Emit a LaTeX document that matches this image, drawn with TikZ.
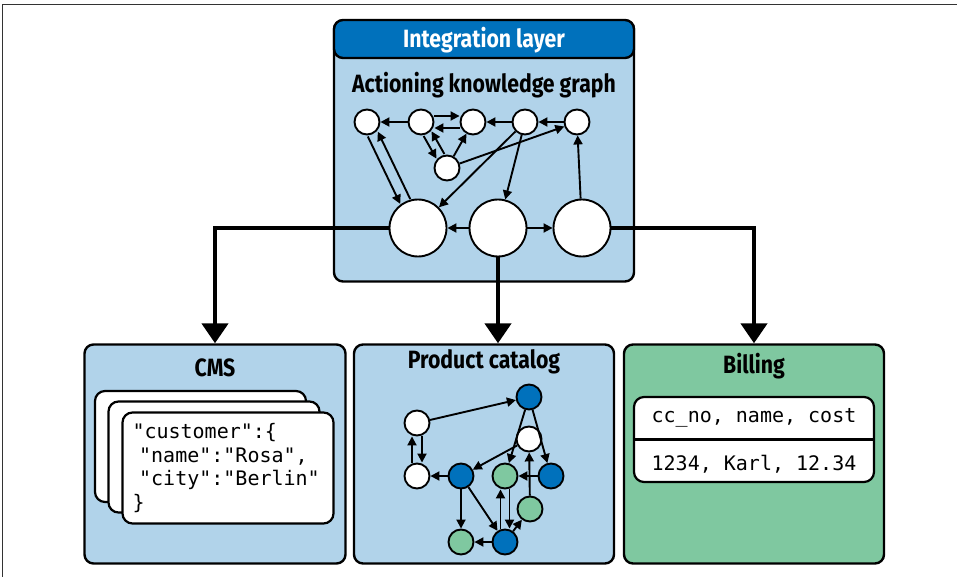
\documentclass[tikz,border=0pt]{standalone}
\usepackage{fontspec}
\setmainfont{Fira Sans}[FakeStretch=0.85]
\setmonofont{DejaVu Sans Mono}
\usetikzlibrary{arrows.meta}

\definecolor{paleblue}{RGB}{177,211,234}
\definecolor{deepblue}{RGB}{0,113,188}
\definecolor{mint}{RGB}{127,200,160}

\begin{document}
\begin{tikzpicture}
  [x=1pt,y=-1pt,
   every node/.style={inner sep=0pt},
   panel/.style={draw,line width=2.4pt,rounded corners=9pt},
   card/.style={draw,line width=2.2pt,rounded corners=10pt,fill=white},
   title/.style={font=\bfseries\fontsize{25}{29}\selectfont},
   code/.style={font=\ttfamily\fontsize{20}{23.5}\selectfont},
   dot/.style={circle,draw,line width=1.9pt,fill=white,minimum size=25pt},
   hub/.style={circle,draw,line width=1.9pt,fill=white,minimum size=57pt},
   link/.style={line width=1.9pt,-{Triangle[length=9pt,width=9pt]}},
   feed/.style={line width=4.5pt,-{Triangle[length=20pt,width=26pt]}}]

  \useasboundingbox (0,0) rectangle (957,577);
  \draw[line width=1.2pt,black!80] (2.5,577) -- (2.5,4.5) -- (957,4.5);

  % integration layer
  \node[panel,fill=paleblue,minimum width=300pt,minimum height=261pt] (intbox) at (484,151) {};
  \node[panel,fill=deepblue,minimum width=300pt,minimum height=38pt] (inthead) at (484,39) {};
  \node[title,text=white,anchor=base] (intname) at (484,48) {Integration layer};
  \node[title,anchor=base] (kgname) at (484,93) {Actioning knowledge graph};

  \node[dot] (s1) at (367,122) {};
  \node[dot] (s2) at (421,122) {};
  \node[dot] (s3) at (473,122) {};
  \node[dot] (s4) at (525,122) {};
  \node[dot] (s5) at (577,122) {};
  \node[dot] (s6) at (447,168) {};
  \node[hub] (b1) at (418,228) {};
  \node[hub] (b2) at (498,228) {};
  \node[hub] (b3) at (582,228) {};

  \foreach \from/\to in {s2/s1,s4/s3,s5/s4,s6/s3,s6/s5,s4/b1,s4/b2,b3/s5,b2/b1,b2/b3}
    \draw[link] (\from) -- (\to);
  \foreach \from/\to/\dx/\dy in {s2/s3/0/-6,s3/s2/0/6,s1/b1/-5/2.4,b1/s1/5/-2.4,s2/s6/-4/2.3,s6/s2/4/-2.3}
    \draw[link,transform canvas={shift={(\dx,\dy)}}] (\from) -- (\to);

  % CMS
  \node[panel,fill=paleblue,minimum width=261pt,minimum height=219pt] (cmsbox) at (215,454) {};
  \node[title,anchor=base] (cmsname) at (215,376) {CMS};
  \node[card,minimum width=211pt,minimum height=111pt] (card1) at (200.5,446.5) {};
  \node[card,minimum width=211pt,minimum height=111pt] (card2) at (214,457) {};
  \node[card,code,minimum width=211pt,minimum height=111pt,text width=191pt,align=left] (card3) at (228,468)
    {"customer":\{\\~"name":"Rosa",\\~"city":"Berlin"\\\}};

  % product catalog
  \node[panel,fill=paleblue,minimum width=260pt,minimum height=219pt] (catbox) at (484,454) {};
  \node[title,anchor=base] (catname) at (484,368) {Product catalog};

  \node[dot] (w1) at (417,423) {};
  \node[dot] (w2) at (417,476) {};
  \node[dot,fill=deepblue] (d1) at (529,397) {};
  \node[dot] (w3) at (529,439) {};
  \node[dot,fill=deepblue] (d2) at (461,476) {};
  \node[dot,fill=mint] (g1) at (505,476) {};
  \node[dot,fill=deepblue] (d3) at (551,476) {};
  \node[dot,fill=mint] (g2) at (530,509) {};
  \node[dot,fill=mint] (g3) at (461,542) {};
  \node[dot,fill=deepblue] (d4) at (505,542) {};

  \foreach \from/\to in {w1/d1,d2/w2,d1/g1,d1/d3,w3/d2,d3/g1,g2/w3,d2/g3,d2/d4,d4/g3,d4/g2}
    \draw[link] (\from) -- (\to);
  \foreach \from/\to/\dx/\dy in {w2/w1/-5/0,w1/w2/5/0,d4/g1/-4.5/0,g1/d4/4.5/0}
    \draw[link,transform canvas={shift={(\dx,\dy)}}] (\from) -- (\to);

  % billing
  \node[panel,fill=mint,minimum width=260pt,minimum height=219pt] (billbox) at (754,454) {};
  \node[title,anchor=base] (billname) at (754,373) {Billing};
  \node[card,minimum width=240pt,minimum height=85pt] (table) at (754,439.5) {};
  \draw[line width=2.2pt] (table.west) -- (table.east);
  \node[code,anchor=base] (row1) at (754,422) {cc\_no, name, cost};
  \node[code,anchor=base] (row2) at (754,470) {1234, Karl, 12.34};

  % feeds
  \draw[feed] (b1.west) -| (cmsbox.north);
  \draw[feed] (b2.south) -- (b2.south |- catbox.north);
  \draw[feed] (b3.east) -| (billbox.north);
\end{tikzpicture}
\end{document}
